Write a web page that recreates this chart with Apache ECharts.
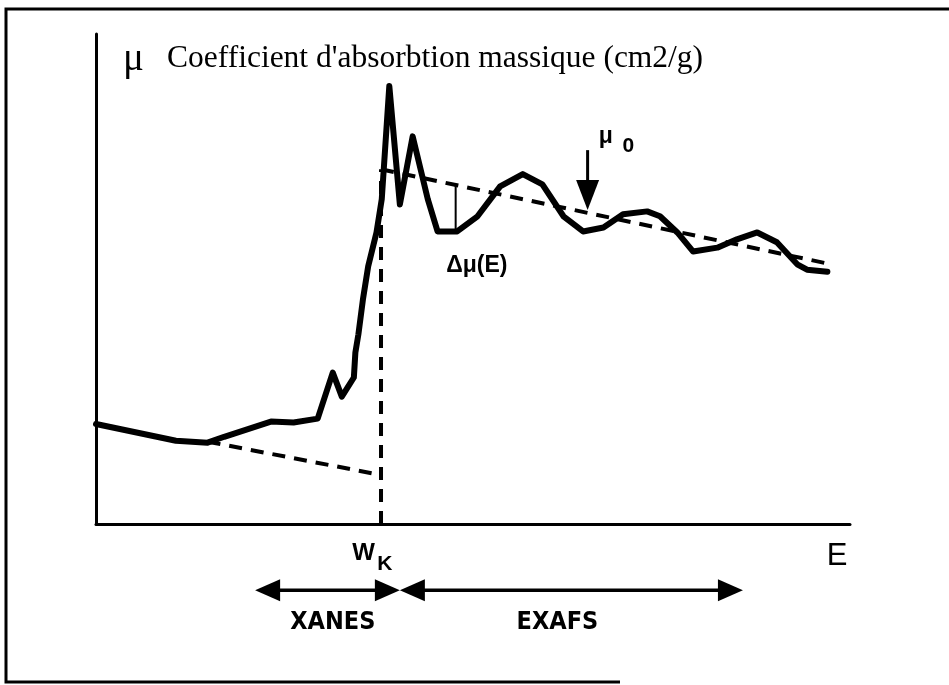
<!DOCTYPE html>
<html><head><meta charset="utf-8">
<script src="https://cdn.jsdelivr.net/npm/echarts@6/dist/echarts.min.js"></script>
<style>html,body{margin:0;padding:0;background:#fff}#c{width:949px;height:685px}</style>
</head><body><div id="c"></div>
<script>
// ---- data (arbitrary units: E axis 0..100, mu axis 0..100) ----
const energy = [0, 10.6, 14.8, 17.0, 23.2, 26.2, 29.4, 31.4, 32.6, 34.2, 34.4, 34.8, 35.4, 36.1, 37.2, 37.9, 38.9, 40.3, 42.0, 44.0, 45.3, 47.9, 50.6, 53.6, 56.6, 59.2, 62.0, 64.6, 67.3, 69.9, 73.1, 74.8, 77.1, 79.2, 82.4, 85.0, 87.7, 90.3, 93.0, 94.3, 97.0];
const mu = [20.4, 17.0, 16.6, 17.8, 20.9, 20.7, 21.5, 30.9, 26.0, 29.9, 35.0, 38.7, 45.8, 52.6, 59.5, 66.3, 89.4, 65.2, 79.1, 66.3, 59.7, 59.7, 62.8, 68.9, 71.4, 69.3, 62.8, 59.7, 60.5, 63.2, 63.8, 62.8, 59.5, 55.6, 56.4, 58.1, 59.5, 57.5, 53.0, 51.9, 51.5];
const mu0E = [37.8, 97.5];          // post-edge background mu0
const mu0 = [72.4, 53.0];
const preE = [14.8, 37.8];          // pre-edge extrapolation
const preMu = [16.8, 10.0];
const edgeE = 37.8;                 // W_K
const dMuE = 47.7;                  // delta mu marker
const dMu = [59.7, 69.4];
const mu0ArrowE = 65.2;
const mu0ArrowMu = [76.3, 64.1];
const rangeMu = -13.5;
const xanesRange = [21.1, 40.3];
const exafsRange = [40.3, 85.8];
const labelTexts = ['W', 'K', 'E', 'XANES', 'EXAFS', 'Δμ(E)', 'μ', '0'];
const labelE = [35.5, 38.3, 98.3, 31.4, 61.2, 50.5, 67.6, 70.6];
const labelMu = [-5.9, -8.3, -6.6, -20.1, -20.1, 52.7, 79.0, 77.2];
const yTitle = "Coefficient d'absorbtion massique (cm2/g)";

// ---- chart ----
const chart = echarts.init(document.getElementById('c'), null, {renderer: 'canvas'});
const curve = energy.map((e, i) => [e, mu[i]]);
const sans = "'Liberation Sans', Arial, sans-serif";
const narrow = "'Liberation Sans Narrow', 'DejaVu Sans Condensed', sans-serif";
const serif = "'Liberation Serif', 'Times New Roman', serif";
const labelStyles = [
  {fontFamily: sans, fontSize: 24, fontWeight: 'bold'},
  {fontFamily: sans, fontSize: 21, fontWeight: 'bold'},
  {fontFamily: sans, fontSize: 31, fontWeight: 'normal'},
  {fontFamily: narrow, fontSize: 25, fontWeight: 'bold'},
  {fontFamily: narrow, fontSize: 25, fontWeight: 'bold'},
  {fontFamily: sans, fontSize: 23, fontWeight: 'bold'},
  {fontFamily: sans, fontSize: 23, fontWeight: 'bold'},
  {fontFamily: sans, fontSize: 21, fontWeight: 'bold'}
];

function arrowSeries(name, items, headLen, headHalf, width, both) {
  return {
    type: 'custom', name: name, clip: false, silent: true,
    encode: {x: [0, 2], y: [1, 3]},
    data: items,
    renderItem: function (params, api) {
      const p1 = api.coord([api.value(0), api.value(1)]);
      const p2 = api.coord([api.value(2), api.value(3)]);
      const dx = p2[0] - p1[0], dy = p2[1] - p1[1];
      const len = Math.sqrt(dx * dx + dy * dy);
      const ux = dx / len, uy = dy / len, nx = -uy, ny = ux;
      const head = (tip, s) => ({
        type: 'polygon',
        shape: {points: [tip,
          [tip[0] - s * ux * headLen + nx * headHalf, tip[1] - s * uy * headLen + ny * headHalf],
          [tip[0] - s * ux * headLen - nx * headHalf, tip[1] - s * uy * headLen - ny * headHalf]]},
        style: {fill: '#000'}
      });
      const a = both ? [p1[0] + ux * headLen * 0.6, p1[1] + uy * headLen * 0.6] : p1;
      const b = [p2[0] - ux * headLen * 0.6, p2[1] - uy * headLen * 0.6];
      const children = [{type: 'line', shape: {x1: a[0], y1: a[1], x2: b[0], y2: b[1]}, style: {stroke: '#000', lineWidth: width}}, head(p2, 1)];
      if (both) children.push(head(p1, -1));
      return {type: 'group', children: children};
    }
  };
}

const dash = [13, 9];
const option = {
  animation: false,
  backgroundColor: '#fff',
  title: [
    {text: 'μ', left: 123, top: 40, padding: 0,
     textStyle: {fontFamily: serif, fontSize: 39, fontWeight: 'normal', color: '#000', lineHeight: 39}},
    {text: yTitle, left: 167, top: 43, padding: 0,
     textStyle: {fontFamily: serif, fontSize: 31.5, fontWeight: 'normal', color: '#000', lineHeight: 31.5}}
  ],
  graphic: [{
    type: 'polyline', silent: true,
    shape: {points: [[949, 9], [6, 9], [6, 682], [620, 682]]},
    style: {stroke: '#000', lineWidth: 3, fill: null}
  }],
  grid: {left: 96, right: 99, top: 34, bottom: 161, containLabel: false},
  xAxis: {type: 'value', min: 0, max: 100,
    axisLine: {show: true, onZero: false, lineStyle: {color: '#000', width: 3}},
    axisTick: {show: false}, axisLabel: {show: false}, splitLine: {show: false}},
  yAxis: {type: 'value', min: 0, max: 100,
    axisLine: {show: true, onZero: false, lineStyle: {color: '#000', width: 3}},
    axisTick: {show: false}, axisLabel: {show: false}, splitLine: {show: false}},
  series: [
    {type: 'line', name: 'edge', data: [[edgeE, 0], [edgeE, mu0[0]]], symbol: 'none', clip: false, silent: true,
     lineStyle: {color: '#000', width: 4, type: dash}},
    {type: 'line', name: 'pre-edge', data: preE.map((e, i) => [e, preMu[i]]), symbol: 'none', clip: false, silent: true,
     lineStyle: {color: '#000', width: 4, type: dash}},
    {type: 'line', name: 'mu0', data: mu0E.map((e, i) => [e, mu0[i]]), symbol: 'none', clip: false, silent: true,
     lineStyle: {color: '#000', width: 4, type: dash}},
    {type: 'line', name: 'delta mu', data: dMu.map(v => [dMuE, v]), symbol: 'none', clip: false, silent: true,
     lineStyle: {color: '#000', width: 2}},
    {type: 'line', name: 'mu(E)', data: curve, symbol: 'none', clip: false, silent: true,
     lineStyle: {color: '#000', width: 6, join: 'round', cap: 'round'}},
    arrowSeries('mu0 arrow', [[mu0ArrowE, mu0ArrowMu[0], mu0ArrowE, mu0ArrowMu[1]]], 30, 11.5, 3, false),
    arrowSeries('XANES', [[xanesRange[0], rangeMu, xanesRange[1], rangeMu]], 25, 11, 3.5, true),
    arrowSeries('EXAFS', [[exafsRange[0], rangeMu, exafsRange[1], rangeMu]], 25, 11, 3.5, true),
    {type: 'scatter', name: 'labels', symbolSize: 0, clip: false, silent: true,
     itemStyle: {opacity: 1, color: '#000'},
     data: labelTexts.map((t, i) => ({
       value: [labelE[i], labelMu[i]],
       label: Object.assign({show: true, position: 'inside', formatter: t, color: '#000', opacity: 1,
         textBorderWidth: 0, align: 'center', verticalAlign: 'middle'}, labelStyles[i])
     }))}
  ]
};
chart.setOption(option);
</script></body></html>
